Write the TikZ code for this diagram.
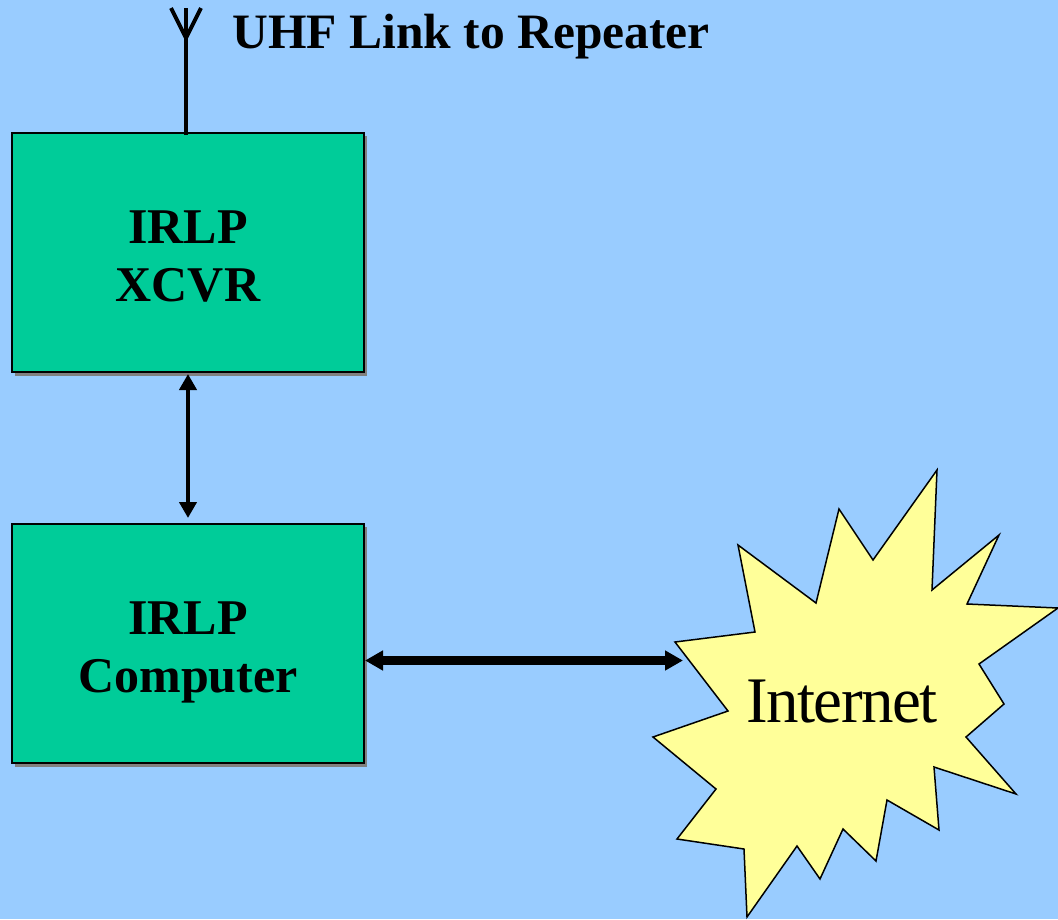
\documentclass[tikz,border=0pt]{standalone}
\usepackage{fontspec}
\setmainfont{Liberation Serif}
\newfontfamily\tightserif[LetterSpace=-2.5]{Liberation Serif}
\usetikzlibrary{arrows.meta}
\definecolor{skybg}{HTML}{99CCFF}
\definecolor{boxgreen}{HTML}{00CC99}
\definecolor{staryellow}{HTML}{FFFF99}
\definecolor{shadowgrey}{HTML}{808080}
\tikzset{
  blockbox/.style={draw=black,line width=2pt,fill=boxgreen,minimum width=352pt,minimum height=239pt,inner sep=0pt,outer sep=0pt,anchor=north west},
  blocktext/.style={font=\fontsize{50}{58}\selectfont\bfseries,align=center},
  thinlink/.style={line width=4.5pt,{Triangle[length=16pt,width=17pt]}-{Triangle[length=16pt,width=17pt]}},
  thicklink/.style={line width=9.5pt,{Triangle[length=18pt,width=19pt]}-{Triangle[length=18pt,width=19pt]}},
  aerial/.style={line width=4pt,line cap=butt}
}
\begin{document}
\begin{tikzpicture}[x=1pt,y=-1pt]
\useasboundingbox (0,0) rectangle (1058,919);
\fill[skybg] (0,0) rectangle (1058,919);
% shadows
\fill[shadowgrey] (15,136) rectangle (367,375.5);
\fill[shadowgrey] (15,527) rectangle (367,766.5);
% boxes
\node[blockbox] (xcvr) at (12,133) {};
\node[blockbox] (comp) at (12,524) {};
\node[blocktext] (xcvrtext) at (188,257) {IRLP\\XCVR};
\node[blocktext] (comptext) at (188,652) {IRLP\\Computer};
% star
\draw[fill=staryellow,draw=black,line width=1.5pt,line join=miter]
 (937,470)--(932,590)--(999,535)--(967,604)--(1058,608)--(979,664)--(1004,704)--(966,737)--(1016,794)--(934,767)--(939,830)--(887,800)--(876,861)--(843,829)--(820,879)--(797,846)--(747,917)--(744,849)--(677,839)--(716,789)--(653,737)--(728,711)--(675,642)--(755,632)--(738,545)--(816,603)--(839,509)--(873,560)--cycle;
\node[font=\fontsize{65}{70}\selectfont\tightserif] (inet) at (842,702) {Internet};
% antenna
\coordinate (mast) at (186,38);
\coordinate (mastTop) at (186,8);
\coordinate (armL) at (171,8);
\coordinate (armR) at (201,8);
\draw[aerial] (186,135) -- (mastTop);
\draw[aerial] (armL) -- (mast) -- (armR);
\node[font=\fontsize{49.5}{50}\selectfont\bfseries,anchor=base west,inner sep=0pt] (uhf) at (232.5,48) {UHF Link to Repeater};
% connectors
\coordinate (xp) at (188,374);
\coordinate (cp) at (188,518);
\draw[thinlink] (xp) -- (cp);
\coordinate (cr) at (365,660.5);
\coordinate (ip) at (683,660.5);
\draw[thicklink] (cr) -- (ip);
\end{tikzpicture}
\end{document}
